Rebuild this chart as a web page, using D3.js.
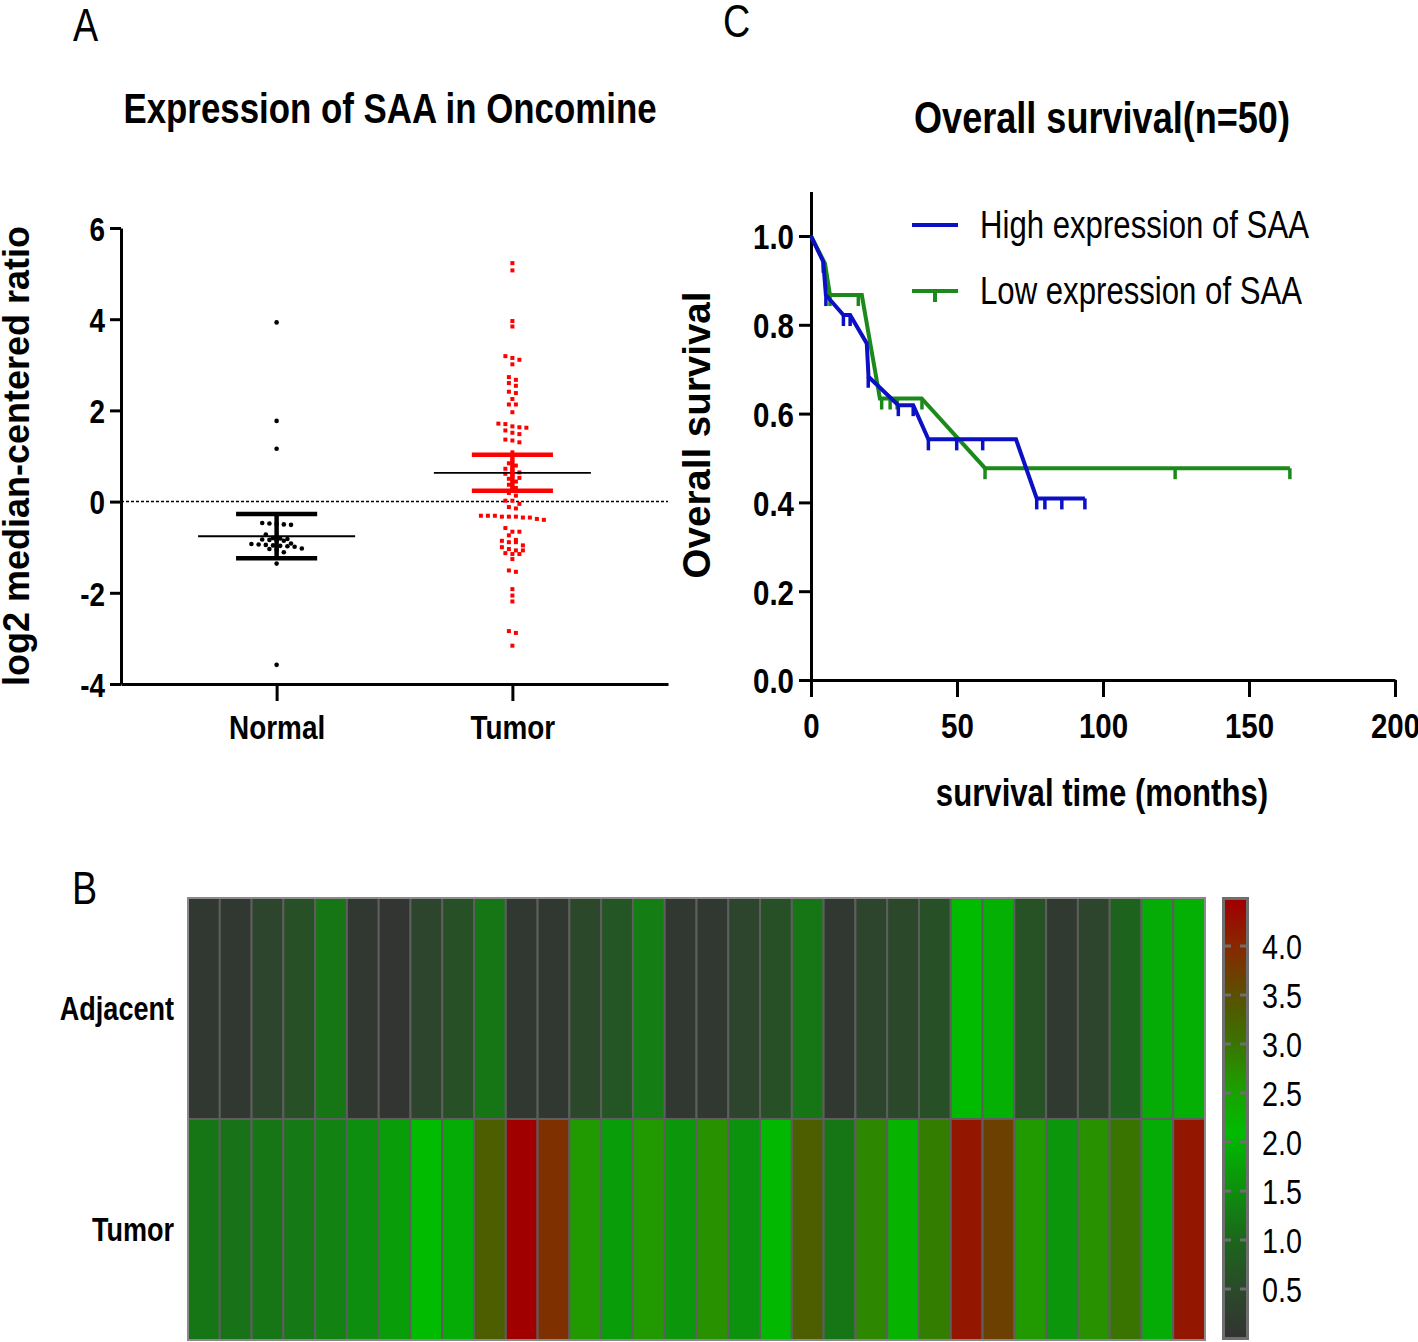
<!DOCTYPE html>
<html><head><meta charset="utf-8">
<script src="https://cdn.jsdelivr.net/npm/d3@7"></script>
<style>body{margin:0;background:#fff}svg{display:block}</style>
</head><body>
<svg id="chart" width="1418" height="1342"></svg>
<script>
// ---------------- DATA ----------------
// Panel A: dot plot
const groups = ["Normal", "Tumor"];
const normalValues = [3.93, 1.77, 1.16, -0.47, -0.48, -0.49, -0.50, -0.51, -0.72,
  -0.80, -0.81, -0.82, -0.83, -0.84, -0.85, -0.86,
  -0.92, -0.93, -0.94, -0.95, -0.96, -0.97, -0.98, -0.99,
  -1.03, -1.04, -1.05, -1.11, -1.36, -3.58];
const tumorValues = [5.23, 5.07, 3.96, 3.84, 3.19, 3.15, 3.11, 3.01,
  2.73, 2.67, 2.60, 2.54, 2.41, 2.38, 2.25, 2.13, 2.13, 1.96,
  1.71, 1.70, 1.65, 1.63, 1.62, 1.56, 1.51, 1.48, 1.36, 1.34, 1.30,
  1.08, 0.84, 0.79, 0.72, 0.68, 0.64, 0.61, 0.57, 0.52, 0.50, 0.44, 0.37, 0.30,
  0.19, 0.13, 0.02, 0.02, -0.05, -0.12, -0.15,
  -0.31, -0.31, -0.31, -0.33, -0.33, -0.33, -0.35, -0.35, -0.38, -0.40,
  -0.58, -0.66, -0.66, -0.74, -0.84, -0.86, -0.89, -0.89, -0.96, -1.00,
  -1.04, -1.07, -1.07, -1.13, -1.15, -1.15, -1.26,
  -1.51, -1.54, -1.92, -2.06, -2.19, -2.84, -2.88, -3.16];
const groupMeans = [-0.76, 0.63];
const groupErrLow = [-1.24, 0.24];
const groupErrHigh = [-0.27, 1.03];
const yTicksA = [-4, -2, 0, 2, 4, 6];

// Panel C: Kaplan-Meier
const seriesNames = ["High expression of SAA", "Low expression of SAA"];
const highTime = [0, 4.2, 5.1, 11.1, 13.4, 19.1, 19.7, 29.9, 35.0, 40.2, 70.2, 77.3, 93.8];
const highSurv = [1.0, 0.942, 0.867, 0.822, 0.822, 0.758, 0.683, 0.619, 0.619, 0.542, 0.542, 0.409, 0.409];
const highCensorTime = [4.2, 5.1, 11.1, 13.4, 19.6, 29.9, 35.0, 40.2, 49.9, 58.8, 77.3, 80.1, 85.9, 93.8];
const highCensorSurv = [0.942, 0.867, 0.822, 0.822, 0.683, 0.619, 0.619, 0.542, 0.542, 0.542, 0.409, 0.409, 0.409, 0.409];
const lowTime = [0, 4.8, 6.5, 17.4, 23.6, 37.9, 59.6, 164];
const lowSurv = [1.0, 0.938, 0.867, 0.867, 0.634, 0.634, 0.477, 0.477];
const lowCensorTime = [6.5, 16.2, 24.2, 27.1, 29.5, 38.0, 59.6, 124.7, 164];
const lowCensorSurv = [0.867, 0.867, 0.634, 0.634, 0.634, 0.634, 0.477, 0.477, 0.477];
const xTicksC = [0, 50, 100, 150, 200];
const yTicksC = [0, 0.2, 0.4, 0.6, 0.8, 1.0];

// Panel B: heatmap
const heatRows = ["Adjacent", "Tumor"];
const adjacentHeat = [0.1, 0.1, 0.4, 0.6, 1.2, 0.1, 0.05, 0.4, 0.6, 1.2, 0.1, 0.1, 0.45, 0.7, 1.3, 0.1,
  0.1, 0.4, 0.6, 1.2, 0.1, 0.4, 0.45, 0.6, 2.1, 1.95, 0.65, 0.15, 0.4, 0.95, 1.9, 1.95];
const tumorHeat = [1.2, 1.15, 1.2, 1.25, 1.35, 1.5, 1.7, 2.1, 1.9, 3.3, 4.45, 3.9, 2.6, 1.7, 2.6, 1.6,
  2.7, 1.55, 2.15, 3.3, 1.2, 2.8, 2.2, 2.9, 4.2, 3.7, 2.6, 1.6, 2.7, 3.0, 1.9, 4.2];
const colorbarTicks = [0.5, 1.0, 1.5, 2.0, 2.5, 3.0, 3.5, 4.0];

// ---------------- DRAWING ----------------
const svg = d3.select("#chart");
const FONT = "'Liberation Sans', Arial, sans-serif";
const NARROW = 0.82;

function ntext(g, x, y, str, size, bold, anchor, extra) {
  const t = g.append("text")
    .attr("transform", `translate(${x},${y}) scale(${NARROW},1)`)
    .attr("font-family", FONT).attr("font-size", size)
    .attr("font-weight", bold ? "bold" : "normal")
    .attr("text-anchor", anchor || "start")
    .attr("fill", "#000")
    .text(str);
  if (extra) t.attr("dy", extra);
  return t;
}
function styleAxisText(sel, size, bold) {
  sel.selectAll("text").attr("font-family", FONT).attr("font-size", size)
    .attr("font-weight", bold ? "bold" : "normal").attr("fill", "#000");
}

// Panel letters
ntext(svg, 73, 41, "A", 46, false);
ntext(svg, 723, 37, "C", 46, false);
ntext(svg, 72, 904, "B", 46, false);

// ===== Panel A =====
const gA = svg.append("g");
const yA = d3.scaleLinear().domain([-4, 6]).range([684, 228]);
const xA = d3.scalePoint().domain(groups).range([121, 668]).padding(0.66);
const stepA = xA.step();

ntext(gA, 390, 123, "Expression of SAA in Oncomine", 42.5, true, "middle");

gA.append("text")
  .attr("transform", `translate(29,456) rotate(-90)`)
  .attr("font-family", FONT).attr("font-size", 36).attr("font-weight", "bold")
  .attr("text-anchor", "middle").text("log2 median-centered ratio");

const axYA = gA.append("g").attr("transform", "translate(121,0)")
  .call(d3.axisLeft(yA).tickValues(yTicksA).tickSize(11).tickSizeOuter(0).tickFormat(d => String(d)));
axYA.selectAll("path,line").attr("stroke", "#000").attr("stroke-width", 3);
axYA.selectAll("text").attr("x", null)
  .attr("transform", `translate(-16,0) scale(${NARROW},1)`).attr("dy", "0.36em");
styleAxisText(axYA, 34, true);

const axXA = gA.append("g").attr("transform", "translate(0,684)")
  .call(d3.axisBottom(xA).tickSize(17).tickSizeOuter(0));
axXA.selectAll("path,line").attr("stroke", "#000").attr("stroke-width", 3);
axXA.selectAll("text").attr("y", null).attr("dy", null)
  .attr("transform", `translate(0,55) scale(${NARROW},1)`);
styleAxisText(axXA, 34, true);

// zero reference line
gA.append("line").attr("x1", 121).attr("x2", 668).attr("y1", yA(0)).attr("y2", yA(0))
  .attr("stroke", "#000").attr("stroke-width", 1.5).attr("stroke-dasharray", "3,2");

function swarm(values, cx, d, rowTol) {
  const sorted = values.slice().sort((a, b) => b - a);
  const rows = [];
  sorted.forEach(v => {
    const last = rows[rows.length - 1];
    if (last && (last[0] - v) < rowTol) last.push(v); else rows.push([v]);
  });
  const pts = [];
  rows.forEach(r => r.forEach((v, i) => pts.push({ v, x: cx + (i - (r.length - 1) / 2) * d })));
  return pts;
}

const normalPts = swarm(normalValues, xA("Normal"), 7.2, 0.1);
gA.append("g").selectAll("circle").data(normalPts).join("circle")
  .attr("cx", d => d.x).attr("cy", d => yA(d.v)).attr("r", 2.3).attr("fill", "#000");

const tumorPts = swarm(tumorValues, xA("Tumor"), 7.0, 0.1);
gA.append("g").selectAll("rect").data(tumorPts).join("rect")
  .attr("x", d => d.x - 2).attr("y", d => yA(d.v) - 2).attr("width", 4).attr("height", 4)
  .attr("fill", "#ff0000");

const barColors = ["#000", "#ff0000"];
groups.forEach((gname, i) => {
  const cx = xA(gname);
  gA.append("line").attr("x1", cx - stepA * 0.333).attr("x2", cx + stepA * 0.333)
    .attr("y1", yA(groupMeans[i])).attr("y2", yA(groupMeans[i]))
    .attr("stroke", "#000").attr("stroke-width", 1.8);
  const eg = gA.append("g").attr("stroke", barColors[i]).attr("stroke-width", 4.5);
  eg.append("line").attr("x1", cx).attr("x2", cx).attr("y1", yA(groupErrHigh[i])).attr("y2", yA(groupErrLow[i]));
  [groupErrHigh[i], groupErrLow[i]].forEach(v => {
    eg.append("line").attr("x1", cx - stepA * 0.172).attr("x2", cx + stepA * 0.172)
      .attr("y1", yA(v)).attr("y2", yA(v));
  });
});

// ===== Panel C =====
const gC = svg.append("g");
const xC = d3.scaleLinear().domain([0, 200]).range([811, 1395]);
const yC = d3.scaleLinear().domain([0, 1.1]).range([680, 191.6]);

ntext(gC, 1102, 133, "Overall survival(n=50)", 44, true, "middle");

gC.append("text")
  .attr("transform", `translate(710,435) rotate(-90)`)
  .attr("font-family", FONT).attr("font-size", 38.5).attr("font-weight", "bold")
  .attr("text-anchor", "middle").text("Overall survival");

ntext(gC, 1102, 806, "survival time (months)", 38, true, "middle");

const axYC = gC.append("g").attr("transform", "translate(811,0)")
  .call(d3.axisLeft(yC).tickValues(yTicksC).tickSize(12).tickSizeOuter(0).tickFormat(d3.format(".1f")));
axYC.selectAll("path,line").attr("stroke", "#000").attr("stroke-width", 3);
axYC.selectAll("text").attr("x", null)
  .attr("transform", `translate(-17,0) scale(${NARROW},1)`).attr("dy", "0.36em");
styleAxisText(axYC, 36, true);

const axXC = gC.append("g").attr("transform", "translate(0,680)")
  .call(d3.axisBottom(xC).tickValues(xTicksC).tickSize(17).tickSizeOuter(0).tickFormat(d3.format("d")));
axXC.selectAll("path,line").attr("stroke", "#000").attr("stroke-width", 3);
axXC.selectAll("text").attr("y", null).attr("dy", null)
  .attr("transform", `translate(0,58) scale(${NARROW},1)`);
styleAxisText(axXC, 36, true);

const kmColors = ["#0c10c4", "#1b8a1b"];
const line = d3.line().x(d => xC(d[0])).y(d => yC(d[1]));
const lowPts = lowTime.map((t, i) => [t, lowSurv[i]]);
const highPts = highTime.map((t, i) => [t, highSurv[i]]);

function drawKM(pts, cT, cS, color) {
  gC.append("path").datum(pts).attr("d", line).attr("fill", "none")
    .attr("stroke", color).attr("stroke-width", 4).attr("stroke-linejoin", "miter");
  gC.append("g").selectAll("line").data(cT.map((t, i) => [t, cS[i]])).join("line")
    .attr("x1", d => xC(d[0])).attr("x2", d => xC(d[0]))
    .attr("y1", d => yC(d[1])).attr("y2", d => yC(d[1]) + 11)
    .attr("stroke", color).attr("stroke-width", 3.5);
}
drawKM(lowPts, lowCensorTime, lowCensorSurv, kmColors[1]);
drawKM(highPts, highCensorTime, highCensorSurv, kmColors[0]);

// legend
seriesNames.forEach((name, i) => {
  const ly = 225 + i * 66;
  gC.append("line").attr("x1", 912).attr("x2", 958).attr("y1", ly).attr("y2", ly)
    .attr("stroke", kmColors[i]).attr("stroke-width", 4);
  if (i === 1) {
    gC.append("line").attr("x1", 935).attr("x2", 935).attr("y1", ly).attr("y2", ly + 11)
      .attr("stroke", kmColors[i]).attr("stroke-width", 4);
  }
  ntext(gC, 980, ly, name, 38, false, "start", "0.35em");
});

// ===== Panel B: heatmap =====
const gB = svg.append("g");
const nCols = adjacentHeat.length;
const xH = d3.scaleBand().domain(d3.range(nCols)).range([188, 1205]);
const yH = d3.scaleBand().domain(heatRows).range([898, 1340]);
const colorDomain = [0, 0.5, 1.0, 1.5, 2.1, 2.6, 3.0, 3.5, 4.0, 4.45];
const color = d3.scaleLinear().domain(colorDomain)
  .range(["#333333", "#2a4a2a", "#1c661c", "#0e8e0e", "#00bb00", "#209a00", "#3a7400", "#5a5000", "#882800", "#a00000"])
  .clamp(true);

const heatData = [];
adjacentHeat.forEach((v, i) => heatData.push({ row: "Adjacent", col: i, v }));
tumorHeat.forEach((v, i) => heatData.push({ row: "Tumor", col: i, v }));

gB.append("g").selectAll("rect").data(heatData).join("rect")
  .attr("x", d => xH(d.col)).attr("y", d => yH(d.row))
  .attr("width", xH.bandwidth()).attr("height", yH.bandwidth())
  .attr("fill", d => color(d.v)).attr("stroke", "#5e5e5e").attr("stroke-width", 2);
gB.append("rect").attr("x", 188).attr("y", 898).attr("width", 1017).attr("height", 442)
  .attr("fill", "none").attr("stroke", "#8a8a8a").attr("stroke-width", 2);

heatRows.forEach(r => {
  ntext(gB, 174, yH(r) + yH.bandwidth() / 2, r, 33, true, "end", "0.35em");
});

// colorbar
const yCB = d3.scaleLinear().domain([0, 4.48]).range([1338, 899]);
const defs = svg.append("defs");
const grad = defs.append("linearGradient").attr("id", "cbgrad")
  .attr("x1", 0).attr("x2", 0).attr("y1", 1).attr("y2", 0);
d3.range(0, 4.49, 0.05).forEach(v => {
  grad.append("stop").attr("offset", v / 4.48).attr("stop-color", color(v));
});
gB.append("rect").attr("x", 1223.5).attr("y", 898.5).attr("width", 24).attr("height", 440)
  .attr("fill", "url(#cbgrad)").attr("stroke", "#6e6e6e").attr("stroke-width", 3);
colorbarTicks.forEach(v => {
  [[1225, 1231], [1240, 1246]].forEach(([a, b]) => {
    gB.append("line").attr("x1", a).attr("x2", b).attr("y1", yCB(v)).attr("y2", yCB(v))
      .attr("stroke", "#6e6e6e").attr("stroke-width", 3);
  });
  ntext(gB, 1262, yCB(v), d3.format(".1f")(v), 35, false, "start", "0.36em");
});
</script>
</body></html>
